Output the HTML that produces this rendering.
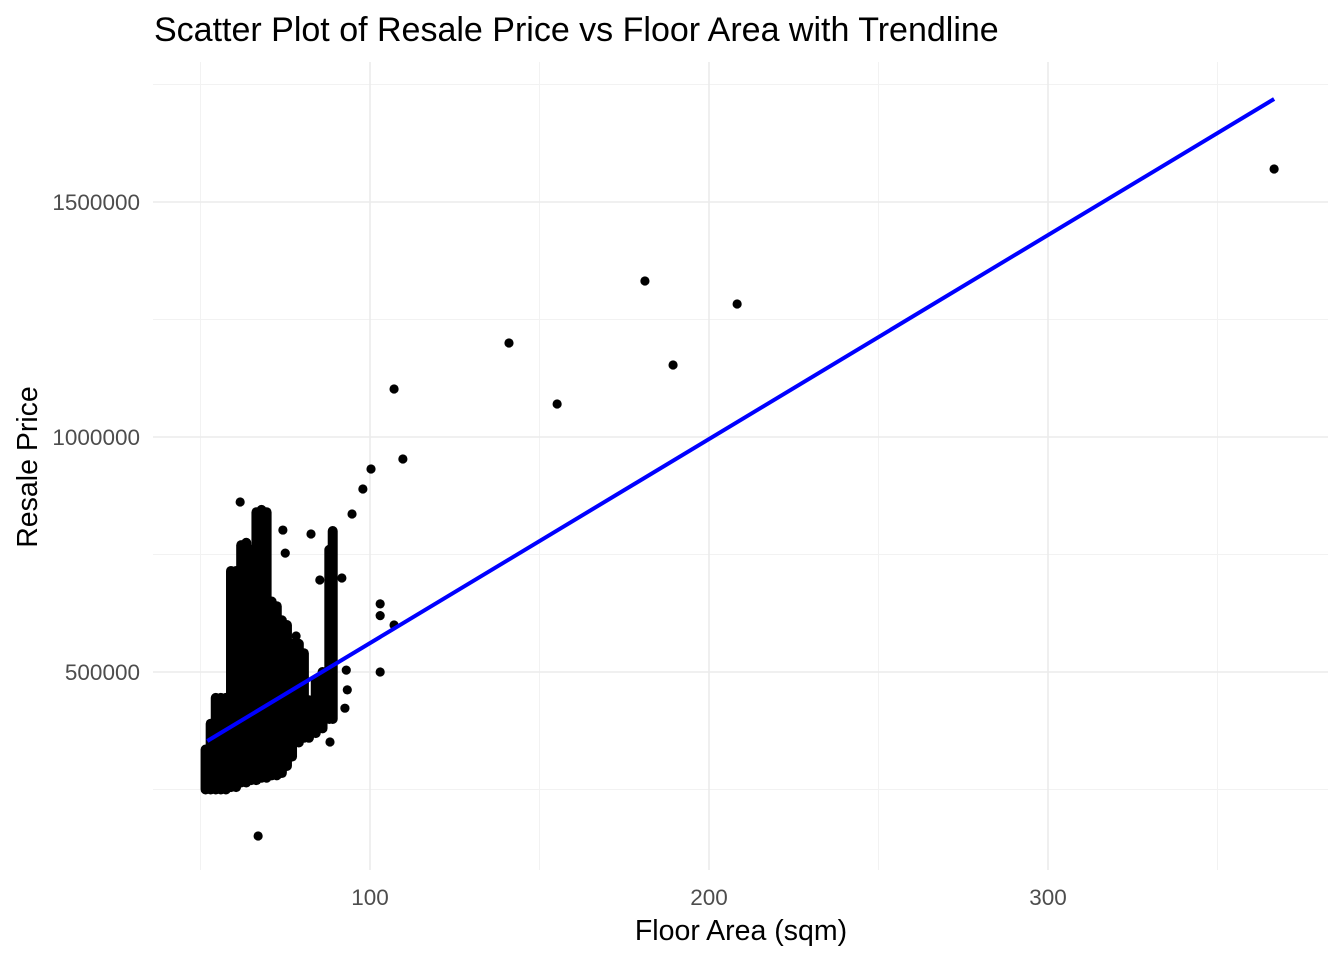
<!DOCTYPE html>
<html><head><meta charset="utf-8"><style>
html,body{margin:0;padding:0;background:#fff;}
svg{display:block;font-family:"Liberation Sans",Arial,sans-serif;}
</style></head><body>
<svg id="chart" width="1344" height="960">
<text x="154" y="41" font-size="34" fill="#000">Scatter Plot of Resale Price vs Floor Area with Trendline</text>
<text x="741" y="940" font-size="28.5" text-anchor="middle" fill="#000">Floor Area (sqm)</text>
<text transform="translate(37,467) rotate(-90)" font-size="28.5" text-anchor="middle" fill="#000">Resale Price</text>
<g id="grid"></g><g id="ticks"></g><g id="marks"></g><g id="trend"></g>
</svg>
<script>
const xTicks=[100,200,300];
const xMinor=[50,150,250,350];
const yTicks=[500000,1000000,1500000];
const yMinor=[250000,750000,1250000,1750000];
// dense columns: [area, minPrice, maxPrice]
const colAreas=[51.5,53,54.5,56,57.5,59,60.5,62,63.5,65,66.5,68,69.5,71,72.5,74,75.5,77,79,80.5,82,84,86,88,89];
const colLow=[250000,250000,250000,250000,250000,255000,255000,265000,265000,270000,270000,275000,275000,280000,280000,285000,300000,320000,350000,360000,360000,370000,380000,400000,400000];
const colHigh=[335000,390000,445000,445000,445000,715000,715000,770000,775000,760000,840000,845000,840000,650000,640000,610000,600000,560000,560000,540000,440000,480000,500000,760000,800000];
const ptArea=[61.7,107.1,109.7,100.3,97.9,94.7,103,103,103,107.1,141,155.2,181.1,189.4,208.3,366.7,67,93,93.3,92.6,82.6,74.3,75,78.2,85.2,91.7,88.2,77];
const ptPrice=[861700,1102100,953200,931900,889400,836200,500000,620000,645000,600000,1200000,1070200,1331900,1153200,1283000,1570200,151000,504000,462000,423000,793600,802000,753000,576600,695700,700000,351000,345000];
const trendArea=[52,366.7];
const trendPrice=[353200,1719149];
const L=153,R=1328,T=62,B=870;
const sx=a=>31+a*3.39;
const sy=p=>672-(p-500000)*235/500000;
const NS="http://www.w3.org/2000/svg";
function mk(parent,tag,attrs){const e=document.createElementNS(NS,tag);for(const k in attrs)e.setAttribute(k,attrs[k]);document.getElementById(parent).appendChild(e);return e;}
xMinor.forEach(v=>{const e=mk('grid','line',{x1:sx(v),x2:sx(v),y1:T,y2:B,stroke:'#f2f2f2','stroke-width':1});

});
yMinor.forEach(v=>{const e=mk('grid','line',{x1:L,x2:R,y1:sy(v),y2:sy(v),stroke:'#f2f2f2','stroke-width':1});

});
xTicks.forEach(v=>{const e=mk('grid','line',{x1:sx(v),x2:sx(v),y1:T,y2:B,stroke:'#ebebeb','stroke-width':1.6});


const t=mk('ticks','text',{x:sx(v),y:905,'font-size':22.5,'text-anchor':'middle',fill:'#4d4d4d'});t.textContent=v;

});
yTicks.forEach(v=>{const e=mk('grid','line',{x1:L,x2:R,y1:sy(v),y2:sy(v),stroke:'#ebebeb','stroke-width':1.6});


const t=mk('ticks','text',{x:140,y:sy(v)+8,'font-size':22.5,'text-anchor':'end',fill:'#4d4d4d'});t.textContent=v;

});
colAreas.forEach((a,i)=>{const e=mk('marks','line',{x1:sx(a),x2:sx(a),y1:sy(colLow[i]),y2:sy(colHigh[i]),stroke:'#000','stroke-width':10,'stroke-linecap':'round'});

});
ptArea.forEach((a,i)=>{const e=mk('marks','circle',{cx:sx(a),cy:sy(ptPrice[i]),r:4.6,fill:'#000'});

});
const tl=mk('trend','line',{x1:sx(trendArea[0]),y1:sy(trendPrice[0]),x2:sx(trendArea[1]),y2:sy(trendPrice[1]),stroke:'#0000ff','stroke-width':4});


</script>
</body></html>
